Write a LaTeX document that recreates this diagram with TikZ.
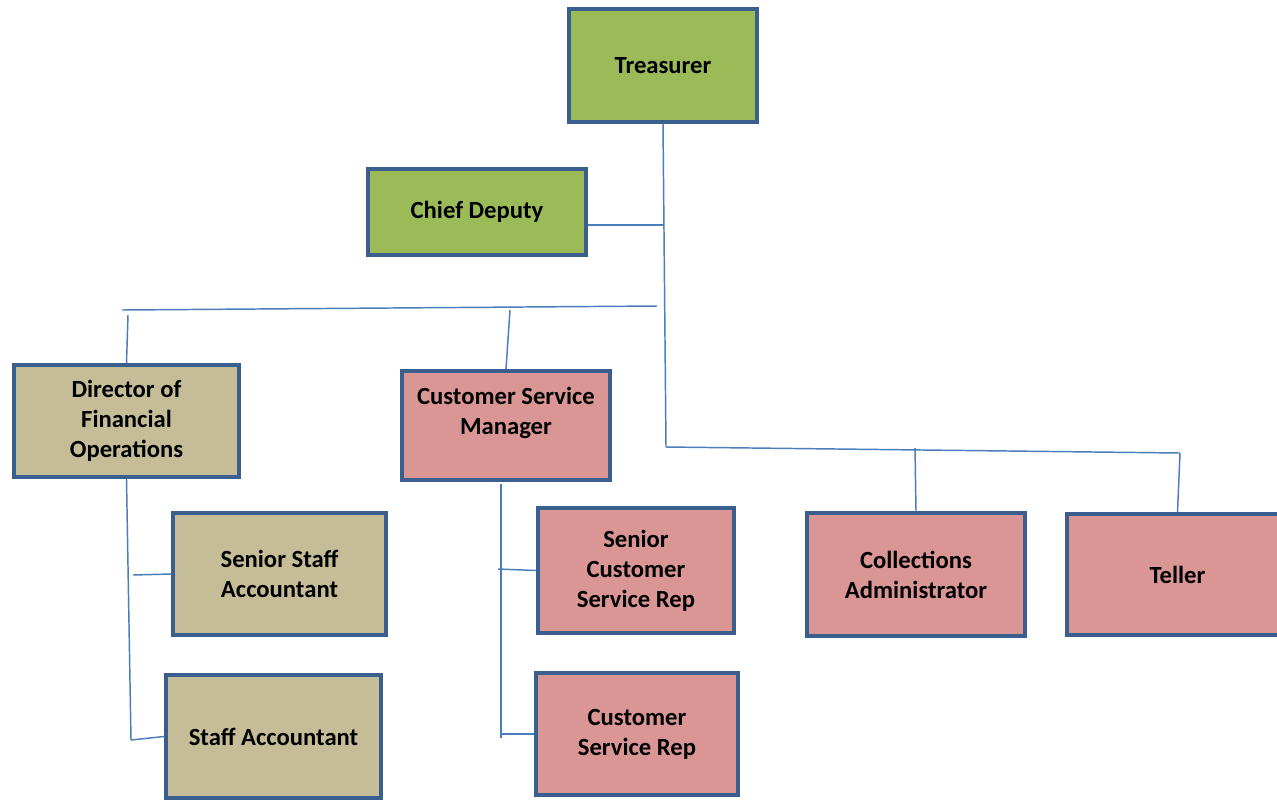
\documentclass[tikz,border=0pt]{standalone}
\usepackage{fontspec}
\setmainfont{Carlito}
\definecolor{bordc}{HTML}{3A5F8E}
\definecolor{linec}{HTML}{4A7EBB}
\definecolor{grn}{HTML}{9BBB59}
\definecolor{tan}{HTML}{C4BD97}
\definecolor{pnk}{HTML}{D99694}
\begin{document}
\begin{tikzpicture}[x=0.75pt,y=-0.75pt,
  box/.style={draw=bordc,line width=3pt,rectangle,align=center,inner sep=0pt,
    font=\fontsize{18.5}{22.6}\selectfont\bfseries},
  conn/.style={draw=linec,line width=1.1pt}]
\useasboundingbox (0,0) rectangle (1277,801);
\fill[white] (0,0) rectangle (1277,801);
% boxes
\node[box,fill=grn,minimum width=141pt,minimum height=84.75pt] (T) at (663,65.5) {\raisebox{-1.5pt}{Treasurer}};
\node[box,fill=grn,minimum width=163.5pt,minimum height=64.5pt] (CD) at (477,212) {\raisebox{-1.5pt}{Chief Deputy}};
\node[box,fill=tan,minimum width=168.75pt,minimum height=84pt] (D) at (126.5,421) {Director of\\Financial\\Operations};
\node[box,fill=pnk,minimum width=156pt,minimum height=81.75pt] (CSM) at (506,425.5) {Customer Service\\Manager\\\mbox{}};
\node[box,fill=tan,minimum width=159.75pt,minimum height=91.5pt] (SSA) at (279.5,574) {Senior Staff\\Accountant};
\node[box,fill=tan,minimum width=161.25pt,minimum height=92.25pt] (SA) at (273.5,736.5) {\raisebox{-1.5pt}{Staff Accountant}};
\node[box,fill=pnk,minimum width=147pt,minimum height=93.75pt] (SCSR) at (636,570.5) {Senior\\Customer\\Service Rep};
\node[box,fill=pnk,minimum width=151.5pt,minimum height=91.5pt] (CSR) at (637,734) {Customer\\Service Rep};
\node[box,fill=pnk,minimum width=163.5pt,minimum height=92.25pt] (CA) at (916,574.5) {Collections\\Administrator};
\node[box,fill=pnk,minimum width=165.75pt,minimum height=90.75pt] (TE) at (1177.5,574.5) {\raisebox{-1.5pt}{Teller}};
% junction coordinates
\coordinate (tj) at (666,447);
\coordinate (cdj) at (664,225);
\coordinate (busL) at (122,310);
\coordinate (busR) at (657,306);
\coordinate (dtop) at (128,315);
\coordinate (cmtop) at (510,310);
\coordinate (caj) at (915,448);
\coordinate (tej) at (1180,453);
\coordinate (dbot) at (131,740);
\coordinate (dssa) at (133,575);
\coordinate (ctop) at (501,484);
\coordinate (cbot) at (501,738);
\coordinate (cscsr) at (498,569);
\coordinate (ccsr) at (501,734);
% connectors
\draw[conn] (T.south) -- (tj);
\draw[conn] (cdj -| CD.east) -- (cdj);
\draw[conn] (busL) -- (busR);
\draw[conn] (dtop) -- (D.north);
\draw[conn] (cmtop) -- (CSM.north);
\draw[conn] (tj) -- (tej);
\draw[conn] (caj) -- (CA.north);
\draw[conn] (tej) -- (TE.north);
\draw[conn] (D.south) -- (dbot);
\draw[conn] (dssa) -- (SSA.west);
\draw[conn] (dbot) -- (SA.west);
\draw[conn] (ctop) -- (cbot);
\draw[conn] (cscsr) -- (SCSR.west);
\draw[conn] (ccsr) -- (CSR.west);
\end{tikzpicture}
\end{document}
